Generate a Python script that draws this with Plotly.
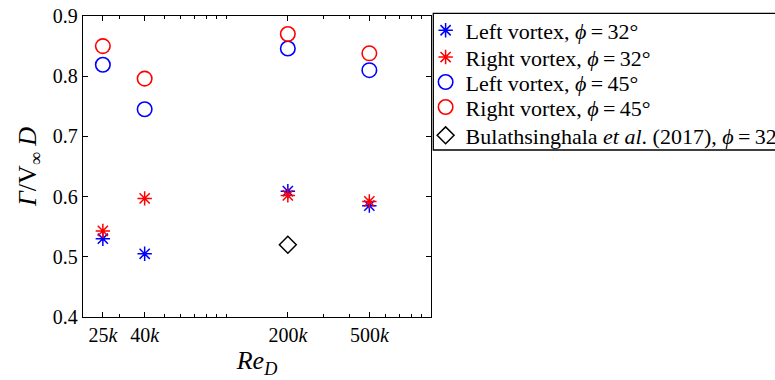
import plotly.graph_objects as go

# Reynolds numbers of the cases
re_d = [25000, 40000, 200000, 500000]
re_labels = ["25<i>k</i>", "40<i>k</i>", "200<i>k</i>", "500<i>k</i>"]

# Normalised circulation Γ/(V∞ D)
left_32 = [0.530, 0.505, 0.609, 0.585]
right_32 = [0.543, 0.597, 0.602, 0.592]
left_45 = [0.819, 0.745, 0.846, 0.810]
right_45 = [0.850, 0.796, 0.870, 0.838]

# Reference value from the literature
bulath_re = [200000]
bulath_val = [0.520]

minor_ticks = [30000, 50000, 60000, 70000, 80000, 90000, 100000,
               300000, 400000, 600000, 700000, 800000, 900000]
y_ticks = [0.4, 0.5, 0.6, 0.7, 0.8, 0.9]

BLUE = "#0000ff"
RED = "#ff0000"
SERIF = "'Liberation Serif', 'DejaVu Serif', serif"
EQ = "\u2009=\u2009"

# One compact legend row per series (rows stacked tighter than a single legend allows)
legend_rows = [0.952, 0.863, 0.780, 0.697, 0.603]
legend_ids = ["legend", "legend2", "legend3", "legend4", "legend5"]

series = [
    (left_32, f"Left vortex, <i>ϕ</i>{EQ}32°", "asterisk-open", 12, BLUE, 1.5),
    (right_32, f"Right vortex, <i>ϕ</i>{EQ}32°", "asterisk-open", 12, RED, 1.5),
    (left_45, f"Left vortex, <i>ϕ</i>{EQ}45°", "circle-open", 14.5, BLUE, 1.6),
    (right_45, f"Right vortex, <i>ϕ</i>{EQ}45°", "circle-open", 14.5, RED, 1.6),
]

fig = go.Figure()
for i, (vals, name, sym, size, col, lw) in enumerate(series):
    fig.add_trace(go.Scatter(
        x=re_d, y=vals, mode="markers", name=name, legend=legend_ids[i],
        marker=dict(symbol=sym, size=size, color=col,
                    line=dict(color=col, width=lw))))
fig.add_trace(go.Scatter(
    x=bulath_re, y=bulath_val, mode="markers", legend=legend_ids[4],
    name=f"Bulathsinghala <i>et al</i>. (2017), <i>ϕ</i>{EQ}32°",
    marker=dict(symbol="diamond-open", size=13, color="black",
                line=dict(color="black", width=1.5))))

legend_style = dict(
    x=0.9845, xanchor="left", yanchor="middle",
    bgcolor="rgba(0,0,0,0)", borderwidth=0,
    font=dict(family=SERIF, size=22, color="black"),
    itemwidth=30,
)
layout_legends = {lid: dict(legend_style, y=yy) for lid, yy in zip(legend_ids, legend_rows)}

fig.update_layout(
    width=775, height=380,
    margin=dict(l=83, r=344, t=16, b=63, autoexpand=False),
    paper_bgcolor="white", plot_bgcolor="white",
    font=dict(family=SERIF, size=19, color="black"),
    showlegend=True,
    **layout_legends,
    shapes=[dict(type="rect", xref="paper", yref="paper",
                 x0=1.0066, x1=2.2, y0=0.5548, y1=1.009,
                 line=dict(color="black", width=1.3), fillcolor="rgba(0,0,0,0)",
                 layer="below")],
    xaxis=dict(
        type="log", range=[4.30103, 6.0],
        tickmode="array", tickvals=re_d, ticktext=re_labels,
        ticks="inside", ticklen=5, tickwidth=1, tickcolor="black",
        minor=dict(tickmode="array", tickvals=minor_ticks, ticks="inside",
                   ticklen=3, tickwidth=1, tickcolor="black", showgrid=False),
        showline=True, linecolor="black", linewidth=1.3, mirror="ticks",
        showgrid=False, zeroline=False,
        tickfont=dict(family=SERIF, size=20),
        title=dict(text="<i>Re<sub>D</sub></i>", standoff=4,
                   font=dict(family=SERIF, size=26)),
    ),
    yaxis=dict(
        range=[0.4, 0.9], tickmode="array", tickvals=y_ticks,
        tickformat=".1f",
        ticks="inside", ticklen=5, tickwidth=1, tickcolor="black",
        showline=True, linecolor="black", linewidth=1.3, mirror="ticks",
        showgrid=False, zeroline=False,
        tickfont=dict(family=SERIF, size=20),
        title=dict(text="<i>Γ</i>/V<sub>∞</sub> <i>D</i>", standoff=8,
                   font=dict(family=SERIF, size=26)),
    ),
)

fig.write_html("out.html")
